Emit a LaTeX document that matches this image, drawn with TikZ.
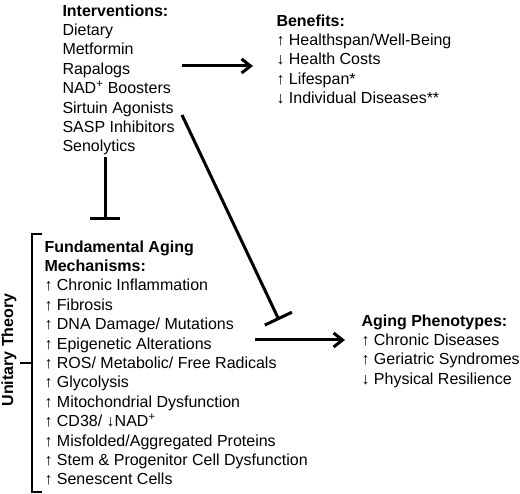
\documentclass[tikz,border=0pt]{standalone}
\usepackage{fontspec}
\setmainfont{Liberation Sans}
\usepackage{tikz}
\usetikzlibrary{arrows.meta, positioning}
\tikzset{>={Straight Barb[length=9pt, width=14pt]},
  block/.style={align=left, inner sep=0pt, anchor=north west,
    font=\fontsize{16}{19.4}\selectfont},
  inhibit/.style={-{Bar[width=30pt]}}}

\begin{document}
\begin{tikzpicture}[x=1pt, y=-1pt, line width=3pt]
    \useasboundingbox (0,0) rectangle (520,494);
    \node[block] (interv) at (61,3) {\textbf{Interventions:}\\Dietary\\Metformin\\Rapalogs\\NAD\textsuperscript{+} Boosters\\Sirtuin Agonists\\SASP Inhibitors\\Senolytics};
    \node[block] (benef) at (275,13) {\textbf{Benefits:}\\↑ Healthspan/Well-Being\\↓ Health Costs\\↑ Lifespan*\\↓ Individual Diseases**};
    \node[block] (mech) at (43,239) {\textbf{Fundamental Aging}\\\textbf{Mechanisms:}\\↑ Chronic Inflammation\\↑ Fibrosis\\↑ DNA Damage/ Mutations\\↑ Epigenetic Alterations\\↑ ROS/ Metabolic/ Free Radicals\\↑ Glycolysis\\↑ Mitochondrial Dysfunction\\↑ CD38/ ↓NAD\textsuperscript{+}\\↑ Misfolded/Aggregated Proteins\\↑ Stem \& Progenitor Cell Dysfunction\\↑ Senescent Cells};
    \node[block] (pheno) at (360,313) {\textbf{Aging Phenotypes:}\\↑ Chronic Diseases\\↑ Geriatric Syndromes\\↓ Physical Resilience};
    \node[rotate=90, inner sep=0pt, font=\fontsize{16}{19.4}\selectfont\bfseries] (unit) at ([shift={(-34,111)}]mech.north west) {Unitary Theory};
    \draw[->] ([shift={(121,63)}]interv.north west) -- ([shift={(-22,53)}]benef.north west);
    \draw[inhibit] ([shift={(44,154)}]interv.north west) -- ([shift={(62,-19)}]mech.north west);
    \draw[inhibit] ([shift={(121,112)}]interv.north west) -- ([shift={(-81,7)}]pheno.north west);
    \draw[->] ([shift={(212,101)}]mech.north west) -- ([shift={(-15,27)}]pheno.north west);
    \draw[line width=2.6pt] ([shift={(-1,-5)}]mech.north west) -| ([shift={(-11,253)}]mech.north west) -- ++(10,0)
          ([shift={(-11,124)}]mech.north west) -- ++(-12,0);
    \end{tikzpicture}
\end{document}
